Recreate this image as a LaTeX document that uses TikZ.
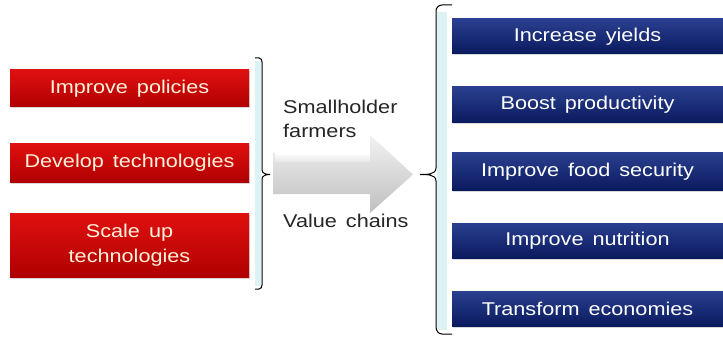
\documentclass[tikz,border=0pt]{standalone}
\usepackage{fontspec}
\setmainfont{Liberation Sans}[FakeStretch=1.17,WordSpace=1.5]
\usetikzlibrary{shadows}
\definecolor{redtop}{HTML}{E01010}
\definecolor{redbot}{HTML}{B00000}
\definecolor{bluetop}{HTML}{2A3F8F}
\definecolor{bluebot}{HTML}{0A1A5E}
\definecolor{redtext}{HTML}{FFF2DC}
\definecolor{bracketcyan}{HTML}{DDF3F3}
\begin{document}
\begin{tikzpicture}[x=1pt,y=-1pt,
  redbox/.style={rectangle,inner sep=0pt,top color=redtop,bottom color=redbot,draw=none,
    text=redtext,align=center,font=\fontsize{18.5}{25}\selectfont,
    drop shadow={shadow xshift=1pt,shadow yshift=-1.5pt,opacity=0.3}},
  bluebox/.style={rectangle,inner sep=0pt,top color=bluetop,bottom color=bluebot,draw=none,
    text=white,align=center,font=\fontsize{18.5}{25}\selectfont,
    drop shadow={shadow xshift=1pt,shadow yshift=-1.5pt,opacity=0.3}},
  lbl/.style={anchor=north west,inner sep=0pt,align=left,text=black!85,font=\fontsize{18.5}{24}\selectfont},
  brk/.style={draw=black,line width=1pt}]
\useasboundingbox (0,0) rectangle (723,342);
\fill[white] (0,0) rectangle (723,342);

% red boxes
\node[redbox,minimum width=239pt,minimum height=37pt] (r1) at (129.5,88.5) {Improve policies};
\node[redbox,minimum width=239pt,minimum height=38pt] (r2) at (129.5,163) {Develop technologies};
\node[redbox,minimum width=239pt,minimum height=64pt] (r3) at (129.5,245) {Scale up\\technologies};

% left bracket
\fill[bracketcyan] (255,61) rectangle (261,286);
\draw[brk] (255,58) -- (259,58) to[out=0,in=90] (262,62) -- (262,170) to[out=270,in=180] (270,174.5)
  to[out=180,in=90] (262,179) -- (262,285) to[out=270,in=0] (259,289) -- (255,289);
\coordinate (lb) at (270,174.5);

% arrow
\coordinate (arr) at (343,174.5);
\shade[top color=gray!10,bottom color=gray!50,middle color=gray!30]
  (273,153) -- (370,153) -- (370,135) -- (413,174.5) -- (370,213) -- (370,194) -- (273,194) -- cycle;
\shade[top color=white,bottom color=gray!20] (275,153) rectangle (370,162);
\node[lbl] (sf) at (283,99.5) {Smallholder\\farmers};
\node[lbl] (vc) at (283,214) {Value chains};

% right bracket
\fill[bracketcyan] (437,12) rectangle (447,330);
\draw[brk] (452,5) -- (442,5) to[out=180,in=90] (436,11) -- (436,168) to[out=270,in=0] (420,174.5)
  to[out=0,in=90] (436,181) -- (436,327) to[out=270,in=180] (442,334) -- (452,334);
\coordinate (rb) at (420,174.5);

% blue boxes
\node[bluebox,minimum width=271pt,minimum height=35pt] (b1) at (587.5,36.5) {Increase yields};
\node[bluebox,minimum width=271pt,minimum height=36pt] (b2) at (587.5,105) {Boost productivity};
\node[bluebox,minimum width=271pt,minimum height=37pt] (b3) at (587.5,171.5) {Improve food security};
\node[bluebox,minimum width=271pt,minimum height=35pt] (b4) at (587.5,240.5) {Improve nutrition};
\node[bluebox,minimum width=271pt,minimum height=35pt] (b5) at (587.5,308.5) {Transform economies};
\end{tikzpicture}
\end{document}
